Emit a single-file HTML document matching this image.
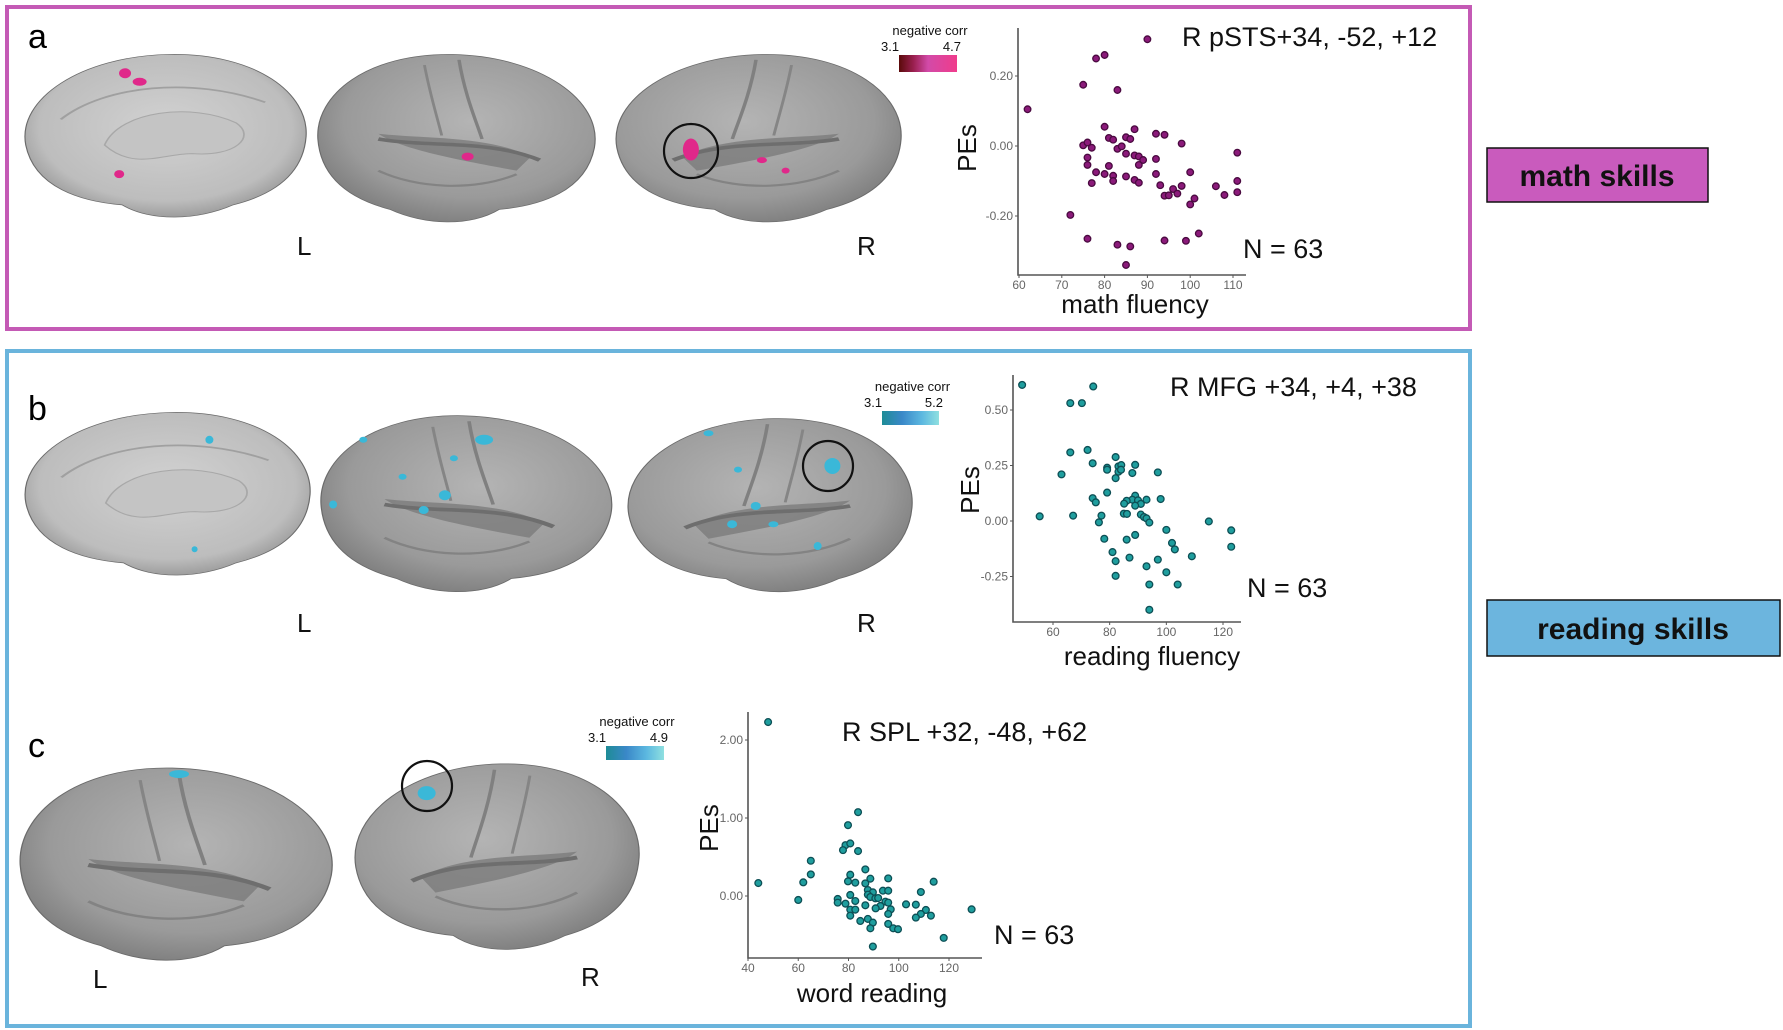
<!DOCTYPE html>
<html><head><meta charset="utf-8"><style>
html,body{margin:0;padding:0;background:#fff;}
svg{display:block;font-family:"Liberation Sans",sans-serif;}
</style></head><body>
<svg id="fig" width="1783" height="1030" viewBox="0 0 1783 1030" xmlns="http://www.w3.org/2000/svg">
<defs>
<radialGradient id="gLat" cx="0.45" cy="0.4" r="0.65"><stop offset="0" stop-color="#b4b4b4"/><stop offset="0.7" stop-color="#9a9a9a"/><stop offset="1" stop-color="#7a7a7a"/></radialGradient>
<radialGradient id="gMed" cx="0.5" cy="0.45" r="0.6"><stop offset="0" stop-color="#d2d2d2"/><stop offset="0.75" stop-color="#bdbdbd"/><stop offset="1" stop-color="#8e8e8e"/></radialGradient>
<linearGradient id="cbPink" x1="0" x2="1"><stop offset="0" stop-color="#5a0a0a"/><stop offset="0.25" stop-color="#9a2050"/><stop offset="0.5" stop-color="#d24aa8"/><stop offset="1" stop-color="#f03c8c"/></linearGradient>
<linearGradient id="cbCyan" x1="0" x2="1"><stop offset="0" stop-color="#1e8c96"/><stop offset="0.35" stop-color="#3a88c8"/><stop offset="0.7" stop-color="#5cb8e0"/><stop offset="1" stop-color="#8fe0e0"/></linearGradient>
</defs>
<rect x="0" y="0" width="1783" height="1030" fill="#fff"/>
<rect x="7" y="7" width="1463" height="322" fill="none" stroke="#c45ab5" stroke-width="4"/>
<rect x="7" y="351" width="1463" height="675" fill="none" stroke="#6ab4dc" stroke-width="4"/>
<g>
<rect x="1487" y="148" width="221" height="54" fill="#c95bbd" stroke="#111" stroke-width="1.5"/>
<text x="1597" y="186" text-anchor="middle" font-size="30" font-weight="bold" fill="#111">math skills</text></g>
<g>
<rect x="1487" y="600" width="293" height="56" fill="#6cb5de" stroke="#111" stroke-width="1.5"/>
<text x="1633" y="639" text-anchor="middle" font-size="30" font-weight="bold" fill="#111">reading skills</text></g>
<text x="28" y="48" font-size="34">a</text>
<text x="28" y="420" font-size="34">b</text>
<text x="28" y="757" font-size="34">c</text>
<g id="brains"></g>
<g id="charts"></g>
</svg>
<script>
// ---- chart data ----
const aX=[62,90,78,80,75,83,80,87,92,94,98,75,76,77,81,82,83,84,85,86,85,87,88,89,88,76,76,81,92,78,80,82,82,85,87,88,77,92,93,96,94,95,97,98,100,101,100,106,108,111,111,111,72,76,83,86,85,94,99,102];
const aY=[0.105,0.305,0.25,0.26,0.175,0.16,0.055,0.048,0.035,0.032,0.007,0.002,0.01,-0.005,0.023,0.018,-0.008,-0.001,0.025,0.02,-0.022,-0.027,-0.03,-0.04,-0.054,-0.033,-0.054,-0.057,-0.037,-0.075,-0.08,-0.085,-0.1,-0.087,-0.097,-0.105,-0.106,-0.08,-0.112,-0.123,-0.142,-0.141,-0.136,-0.114,-0.075,-0.15,-0.167,-0.115,-0.14,-0.019,-0.1,-0.132,-0.197,-0.265,-0.282,-0.287,-0.34,-0.27,-0.271,-0.25];
const aXTicks=[60,70,80,90,100,110];
const aYTicks=[-0.2,0,0.2];
const bX=[49.1,74.2,66.1,70.2,66.1,72.2,74,63,82.1,79.1,79.1,83.1,84.1,83.1,84,82.1,89,88,97,79.1,74,75.1,89,88,86,85.1,90,91,93,98,89,85,86.1,91,92.1,93,94,55.3,67.1,77.1,76.2,78.1,89,86,100,102,103,115,122.9,122.9,109,81,82.1,87,97,93,100,82.1,94,104,94];
const bY=[0.613,0.606,0.531,0.531,0.309,0.32,0.26,0.21,0.288,0.24,0.231,0.246,0.252,0.222,0.231,0.193,0.253,0.216,0.219,0.128,0.103,0.084,0.114,0.096,0.091,0.078,0.093,0.077,0.096,0.099,0.069,0.033,0.032,0.029,0.018,0.012,-0.007,0.021,0.024,0.024,-0.006,-0.08,-0.063,-0.084,-0.04,-0.099,-0.128,-0.002,-0.042,-0.116,-0.159,-0.14,-0.181,-0.165,-0.174,-0.204,-0.231,-0.247,-0.286,-0.286,-0.4];
const bXTicks=[60,80,100,120];
const bYTicks=[-0.25,0,0.25,0.5];
const cX=[48,83.8,79.8,78.8,80.7,77.8,83.8,65,65,62,44.1,86.7,80.7,79.8,82.7,88.7,95.8,86.7,113.9,87.7,89.7,93.7,95.8,108.8,80.7,87.7,88.7,90.7,91.8,60,75.7,75.7,78.8,82.7,94.7,95.8,86.7,92.7,90.8,80.7,82.7,96.8,102.9,106.8,110.8,129,80.7,95.8,108.8,106.8,112.8,84.7,87.7,89.7,95.8,97.8,99.7,88.7,117.9,89.7];
const cY=[2.23,1.075,0.908,0.652,0.674,0.588,0.576,0.452,0.277,0.175,0.166,0.341,0.273,0.188,0.171,0.222,0.226,0.162,0.183,0.077,0.047,0.068,0.068,0.051,0.013,0.017,-0.013,-0.03,-0.026,-0.051,-0.038,-0.085,-0.098,-0.064,-0.072,-0.085,-0.119,-0.128,-0.158,-0.175,-0.175,-0.171,-0.107,-0.111,-0.179,-0.171,-0.252,-0.23,-0.23,-0.277,-0.252,-0.32,-0.294,-0.341,-0.358,-0.414,-0.426,-0.414,-0.537,-0.648];
const cXTicks=[40,60,80,100,120];
const cYTicks=[0,1,2];

const NS="http://www.w3.org/2000/svg";
function mk(tag,attrs,parent){const e=document.createElementNS(NS,tag);for(const k in attrs)e.setAttribute(k,attrs[k]);if(parent)parent.appendChild(e);return e;}
const charts=document.getElementById('charts');

function scatter(cfg){
  const g=mk('g',{},charts);
  
  
  const sx=v=>cfg.px0+(v-cfg.x0)*(cfg.px1-cfg.px0)/(cfg.x1-cfg.x0);
  const sy=v=>cfg.py0+(v-cfg.y0)*(cfg.py1-cfg.py0)/(cfg.y1-cfg.y0);
  const ax=mk('path',{d:`M${cfg.axL},${cfg.axT} V${cfg.axB} H${cfg.axR}`,fill:'none',stroke:'#555','stroke-width':1.6},g);
  
  
  cfg.xt.forEach(v=>{
    mk('line',{x1:sx(v),x2:sx(v),y1:cfg.axB,y2:cfg.axB+3,stroke:'#555'},g);
    const t=mk('text',{x:sx(v),y:cfg.axB+14,'text-anchor':'middle','font-size':cfg.tfs,fill:'#666'},g);
    t.textContent=cfg.xfmt(v);
    
    
  });
  cfg.yt.forEach(v=>{
    mk('line',{x1:cfg.axL-3,x2:cfg.axL,y1:sy(v),y2:sy(v),stroke:'#555'},g);
    const t=mk('text',{x:cfg.axL-5,y:sy(v)+4,'text-anchor':'end','font-size':cfg.tfs,fill:'#666'},g);
    t.textContent=v.toFixed(2);
    
    
  });
  cfg.xs.forEach((x,i)=>{
    const c=mk('circle',{cx:sx(x),cy:sy(cfg.ys[i]),r:cfg.r,fill:cfg.fill,stroke:cfg.stroke,'stroke-width':1.3},g);
    
    
  });
  const xt=mk('text',{x:cfg.xtX,y:cfg.xtY,'text-anchor':'middle','font-size':26,fill:'#111'},g);
  xt.textContent=cfg.xlabel;
  
  
  const yt=mk('text',{x:0,y:0,'text-anchor':'middle','font-size':26,fill:'#111',transform:`translate(${cfg.ytX},${cfg.ytY}) rotate(-90)`},g);
  yt.textContent='PEs';
  
  
  const ti=mk('text',{x:cfg.tX,y:cfg.tY,'font-size':27,fill:'#111'},g);
  ti.textContent=cfg.title;
  
  
  const n=mk('text',{x:cfg.nX,y:cfg.nY,'font-size':27,fill:'#111'},g);
  n.textContent='N = 63';
  
  
}
scatter({name:'scatter-math-fluency',xs:aX,ys:aY,xt:aXTicks,yt:aYTicks,x0:60,x1:110,px0:1019,px1:1233,y0:0,y1:0.2,py0:146,py1:76,
 axL:1018,axT:28,axB:275,axR:1246,tfs:12,xfmt:v=>v,r:3.3,fill:'#8b1a7a',stroke:'#4a0a40',
 xlabel:'math fluency',xtX:1135,xtY:313,ytX:976,ytY:148,title:'R pSTS+34, -52, +12',tX:1182,tY:46,nX:1243,nY:258});
scatter({name:'scatter-reading-fluency',xs:bX,ys:bY,xt:bXTicks,yt:bYTicks,x0:60,x1:120,px0:1053,px1:1223,y0:0,y1:0.5,py0:521,py1:410,
 axL:1013,axT:375,axB:622,axR:1241,tfs:12,xfmt:v=>v,r:3.4,fill:'#1f9e9e',stroke:'#0d4f55',
 xlabel:'reading fluency',xtX:1152,xtY:665,ytX:979,ytY:490,title:'R MFG +34, +4, +38',tX:1170,tY:396,nX:1247,nY:597});
scatter({name:'scatter-word-reading',xs:cX,ys:cY,xt:cXTicks,yt:cYTicks,x0:40,x1:120,px0:748,px1:949,y0:0,y1:2,py0:896,py1:740,
 axL:748,axT:712,axB:958,axR:982,tfs:12,xfmt:v=>v,r:3.4,fill:'#1f9e9e',stroke:'#0d4f55',
 xlabel:'word reading',xtX:872,xtY:1002,ytX:718,ytY:828,title:'R SPL +32, -48, +62',tX:842,tY:741,nX:994,nY:944});

// ---- brains ----
const brains=document.getElementById('brains');
const BP="M0.03,0.55 C0.0,0.28 0.22,0.03 0.52,0.02 C0.82,0.01 1.0,0.25 0.99,0.5 C0.98,0.72 0.88,0.84 0.74,0.9 C0.62,0.99 0.46,1.0 0.36,0.9 C0.22,0.88 0.06,0.8 0.03,0.55 Z";
function brain(name,x,y,w,h,med,flip,blobs,color){
  const g=mk('g',{transform:`translate(${x},${y})`},brains);
  
  
  const inner=mk('g',{transform:flip?`translate(${w},0) scale(${-w},${h})`:`scale(${w},${h})`},g);
  mk('path',{d:BP,fill:med?'url(#gMed)':'url(#gLat)',stroke:'#6a6a6a','stroke-width':0.004},inner);
  if(med){
    mk('path',{d:"M0.3,0.55 C0.35,0.35 0.6,0.3 0.75,0.42 C0.82,0.5 0.75,0.62 0.6,0.6 C0.5,0.6 0.4,0.7 0.3,0.55 Z",fill:'#c4c4c4',stroke:'#a8a8a8','stroke-width':0.006},inner);
    mk('path',{d:"M0.15,0.4 C0.3,0.2 0.6,0.15 0.85,0.3",fill:'none',stroke:'#a0a0a0','stroke-width':0.01},inner);
  } else {
    mk('path',{d:"M0.25,0.6 C0.4,0.48 0.62,0.5 0.78,0.47 C0.7,0.56 0.5,0.62 0.3,0.68 Z",fill:'#7c7c7c',opacity:0.8},inner);
    mk('path',{d:"M0.22,0.62 C0.4,0.5 0.6,0.55 0.78,0.5",fill:'none',stroke:'#6e6e6e','stroke-width':0.02},inner);
    mk('path',{d:"M0.5,0.05 C0.48,0.25 0.44,0.4 0.42,0.5",fill:'none',stroke:'#808080','stroke-width':0.012},inner);
    mk('path',{d:"M0.3,0.7 C0.45,0.8 0.65,0.78 0.78,0.68",fill:'none',stroke:'#838383','stroke-width':0.012},inner);
    mk('path',{d:"M0.62,0.08 C0.6,0.25 0.58,0.35 0.56,0.48",fill:'none',stroke:'#858585','stroke-width':0.01},inner);
  }
  blobs.forEach(b=>{
    const e=mk('ellipse',{cx:b[0]*w,cy:b[1]*h,rx:b[2],ry:b[3],fill:color},g);
    
    
  });
}
const PK='#e0288a', CY='#3ab8d8';
brain('brain-a-left-medial',17,51,292,171,true,false,[[0.37,0.13,6,5],[0.42,0.18,7,4],[0.35,0.72,5,4]],PK);
brain('brain-a-left-lateral',315,51,288,176,false,true,[[0.53,0.6,6,4]],PK);
brain('brain-a-right-lateral',608,51,296,176,false,false,[[0.28,0.56,8,11],[0.52,0.62,5,3],[0.6,0.68,4,3]],PK);
brain('brain-b-left-medial',17,409,296,171,true,false,[[0.65,0.18,4,4],[0.6,0.82,3,3]],CY);
brain('brain-b-left-lateral',318,412,302,185,false,true,[[0.55,0.15,9,5],[0.15,0.15,4,3],[0.45,0.25,4,3],[0.42,0.45,6,5],[0.35,0.53,5,4],[0.05,0.5,4,4],[0.28,0.35,4,3]],CY);
brain('brain-b-right-lateral',620,415,295,182,false,false,[[0.72,0.28,8,8],[0.3,0.1,5,3],[0.4,0.3,4,3],[0.46,0.5,5,4],[0.38,0.6,5,4],[0.52,0.6,5,3],[0.67,0.72,4,4]],CY);
brain('brain-c-left',17,764,324,202,false,true,[[0.5,0.05,10,4]],CY);
brain('brain-c-right',347,760,295,195,false,false,[[0.27,0.17,9,7]],CY);

function txt(s,x,y,fs,name){const t=mk('text',{x:x,y:y,'font-size':fs,fill:'#111'},brains);t.textContent=s;}
txt('L',297,255,26,'hemisphere-label-left');txt('R',857,255,26,'hemisphere-label-right');
txt('L',297,632,26,'hemisphere-label-left');txt('R',857,632,26,'hemisphere-label-right');
txt('L',93,988,26,'hemisphere-label-left');txt('R',581,986,26,'hemisphere-label-right');
function circ(cx,cy,r){const c=mk('circle',{cx:cx,cy:cy,r:r,fill:'none',stroke:'#111','stroke-width':2.2},brains);}
circ(691,151,27);circ(828,466,25);circ(427,786,25);

function cbar(x,y,w,h,lo,hi,grad,name){
  const g=mk('g',{},brains);
  
  
  const t=mk('text',{x:x+w/2+2,y:y-20,'font-size':13,'text-anchor':'middle',fill:'#111'},g);t.textContent='negative corr';
  const a=mk('text',{x:x-18,y:y-4,'font-size':13,fill:'#111'},g);a.textContent=lo;
  const b=mk('text',{x:x+w+4,y:y-4,'font-size':13,'text-anchor':'end',fill:'#111'},g);b.textContent=hi;
  mk('rect',{x:x,y:y,width:w,height:h,fill:grad},g);
}
cbar(899,55,58,17,'3.1','4.7','url(#cbPink)','colorbar-a');
cbar(882,411,57,14,'3.1','5.2','url(#cbCyan)','colorbar-b');
cbar(606,746,58,14,'3.1','4.9','url(#cbCyan)','colorbar-c');
</script>
</body></html>
